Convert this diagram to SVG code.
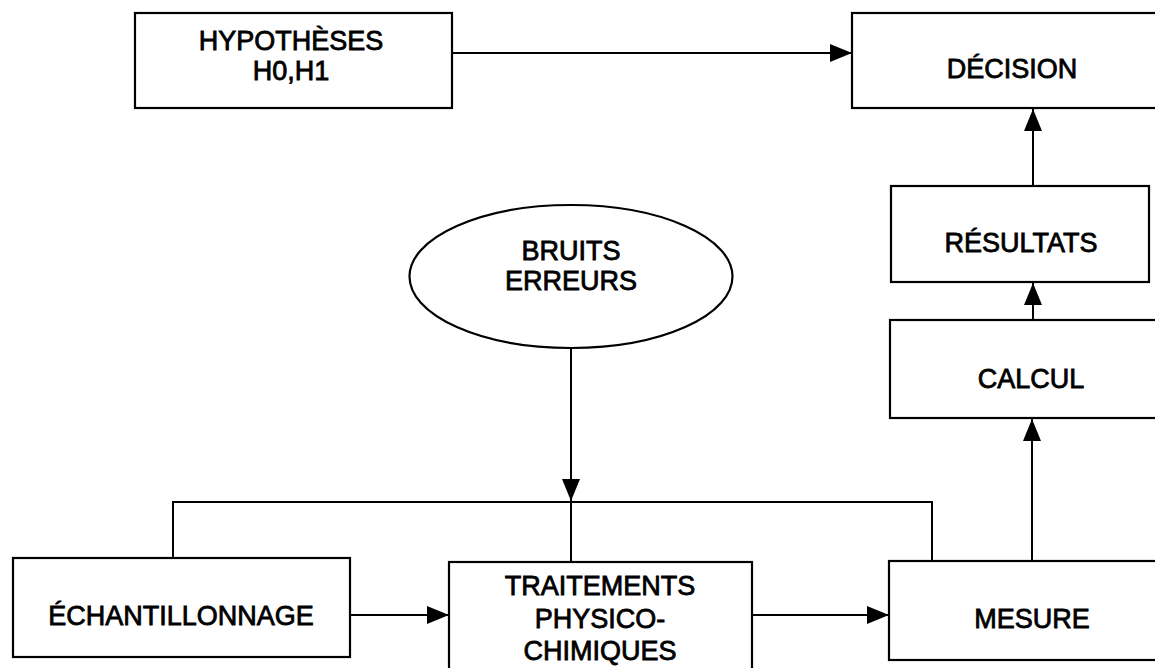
<svg xmlns="http://www.w3.org/2000/svg" width="1155" height="668" viewBox="0 0 1155 668">
<style>
.box{fill:#fff;stroke:#000;stroke-width:2.2}
.lbl{font-family:"Liberation Sans",Arial,sans-serif;font-size:27px;fill:#000;stroke:#000;stroke-width:0.8;text-anchor:middle}
.con{fill:none;stroke:#000;stroke-width:2}
</style>
<defs>
<marker id="ah" markerUnits="userSpaceOnUse" markerWidth="22" markerHeight="18" refX="22" refY="9" orient="auto">
<path d="M0,0 L22,9 L0,18 z" fill="#000"/>
</marker>
</defs>
<rect width="1155" height="668" fill="#fff"/>
<g id="connectors">
<line class="con" x1="452" y1="53" x2="852" y2="53" marker-end="url(#ah)"/>
<line class="con" x1="1033" y1="186" x2="1033" y2="109" marker-end="url(#ah)"/>
<line class="con" x1="1033" y1="320" x2="1033" y2="283" marker-end="url(#ah)"/>
<line class="con" x1="1032" y1="561" x2="1032" y2="419" marker-end="url(#ah)"/>
<line class="con" x1="571" y1="341" x2="571" y2="501" marker-end="url(#ah)"/>
<polyline class="con" points="173,558 173,502 932,502 932,561"/>
<line class="con" x1="571" y1="502" x2="571" y2="562"/>
<line class="con" x1="350" y1="615" x2="449" y2="615" marker-end="url(#ah)"/>
<line class="con" x1="752" y1="615" x2="889" y2="615" marker-end="url(#ah)"/>
</g>
<g id="hypotheses">
<rect class="box" x="135" y="13" width="317" height="95"/>
<text class="lbl" x="291" y="50">HYPOTHÈSES</text>
<text class="lbl" x="291" y="80">H0,H1</text>
</g>
<g id="decision">
<rect class="box" x="852" y="13" width="320" height="95"/>
<text class="lbl" x="1012" y="78">DÉCISION</text>
</g>
<g id="resultats">
<rect class="box" x="891" y="186" width="258" height="96"/>
<text class="lbl" x="1021" y="252">RÉSULTATS</text>
</g>
<g id="calcul">
<rect class="box" x="890" y="320" width="280" height="98"/>
<text class="lbl" x="1031" y="388">CALCUL</text>
</g>
<g id="bruits">
<ellipse class="box" cx="571" cy="276.5" rx="161.5" ry="71.5"/>
<text class="lbl" x="571" y="260">BRUITS</text>
<text class="lbl" x="571" y="290">ERREURS</text>
</g>
<g id="echantillonnage">
<rect class="box" x="13" y="558" width="337" height="99"/>
<text class="lbl" x="181" y="625">ÉCHANTILLONNAGE</text>
</g>
<g id="traitements">
<rect class="box" x="449" y="562" width="303" height="120"/>
<text class="lbl" x="600" y="595">TRAITEMENTS</text>
<text class="lbl" x="600" y="628">PHYSICO-</text>
<text class="lbl" x="600" y="660">CHIMIQUES</text>
</g>
<g id="mesure">
<rect class="box" x="889" y="561" width="280" height="99"/>
<text class="lbl" x="1032" y="628">MESURE</text>
</g>
</svg>
